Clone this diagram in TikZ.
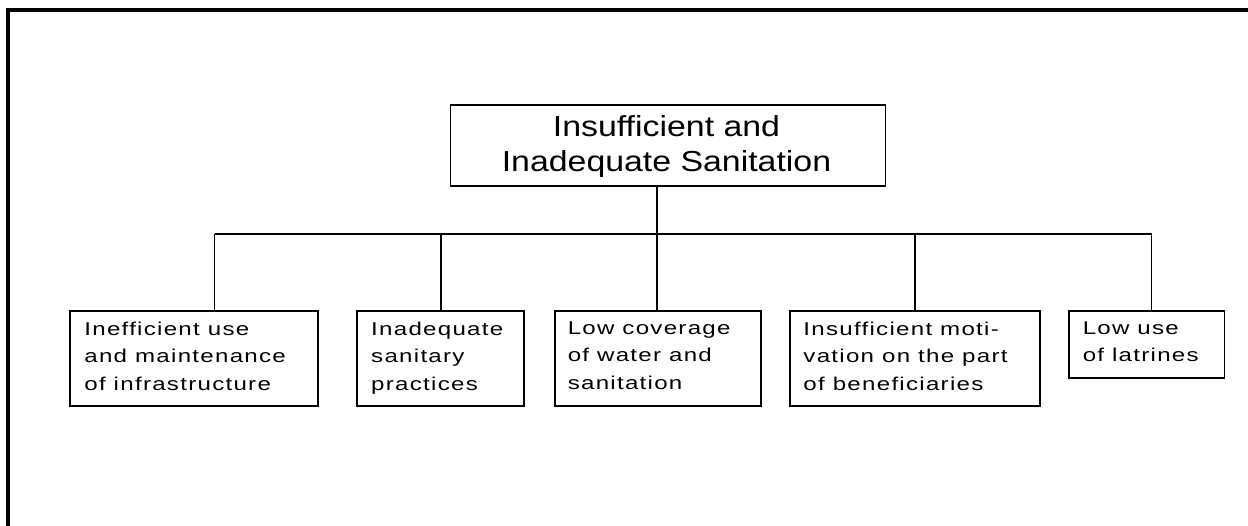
\documentclass[tikz,border=0pt]{standalone}
\usepackage{fontspec}
\setmainfont{Liberation Sans}
\newfontfamily\topfont[FakeStretch=1.17]{Liberation Sans}
\newfontfamily\botfont[FakeStretch=1.3,LetterSpace=6.9]{Liberation Sans}
\usetikzlibrary{calc}
\begin{document}
\begin{tikzpicture}[x=0.75pt,y=-0.75pt,
  box/.style={draw,line width=1.3pt,rectangle,inner sep=0pt,minimum height=#1*0.75pt},
  box/.default=95,
  conn/.style={line width=1pt},
  btext/.style={anchor=north west,inner sep=0pt,align=left,font=\botfont\fontsize{13.9pt}{20.5pt}\selectfont},
  ttext/.style={anchor=north,inner sep=0pt,align=center,font=\topfont\fontsize{21.7pt}{26.25pt}\selectfont}]
\useasboundingbox (0,0) rectangle (1248,525);
% frame
\draw[line width=3pt,line join=miter] (8,530) -- (8,10) -- (1252,10);
% boxes
\node[box=81,minimum width=435*0.75pt] (main) at (668,145.5) {};
\node[box,minimum width=248*0.75pt] (b1) at (194,358.2) {};
\node[box,minimum width=167*0.75pt] (b2) at (440.8,358.2) {};
\node[box,minimum width=206.3*0.75pt] (b3) at (657.9,358.2) {};
\node[box,minimum width=249.7*0.75pt] (b4) at (914.9,358.2) {};
\node[box=67,minimum width=155.3*0.75pt] (b5) at (1146.7,344.2) {};
% texts
\node[ttext] (tmain) at ($(main.north)+(-1.5,10.7)$) {Insufficient and\\Inadequate Sanitation};
\node[btext] (t1) at ($(b1.north west)+(15,11.8)$) {Inefficient use\\and maintenance\\of infrastructure};
\node[btext] (t2) at ($(b2.north west)+(14.5,11.8)$) {Inadequate\\sanitary\\practices};
\node[btext] (t3) at ($(b3.north west)+(13.6,11.8)$) {Low coverage\\of water and\\sanitation};
\node[btext] (t4) at ($(b4.north west)+(14,11.8)$) {Insufficient moti-\\vation on the part\\of beneficiaries};
\node[btext] (t5) at ($(b5.north west)+(14.3,11.8)$) {Low use\\of latrines};
% connectors
\coordinate (d1) at (214.5,234);
\coordinate (d2) at (441,234);
\coordinate (d3) at (657,234);
\coordinate (d4) at (915,234);
\coordinate (d5) at (1151.5,234);
\draw[conn] (d3 |- main.south) -- (d3 |- b3.north);
\draw[conn] (d1) -- (d5);
\draw[conn] (d1) -- (d1 |- b1.north);
\draw[conn] (d2) -- (d2 |- b2.north);
\draw[conn] (d4) -- (d4 |- b4.north);
\draw[conn] (d5) -- (d5 |- b5.north);
\end{tikzpicture}
\end{document}
